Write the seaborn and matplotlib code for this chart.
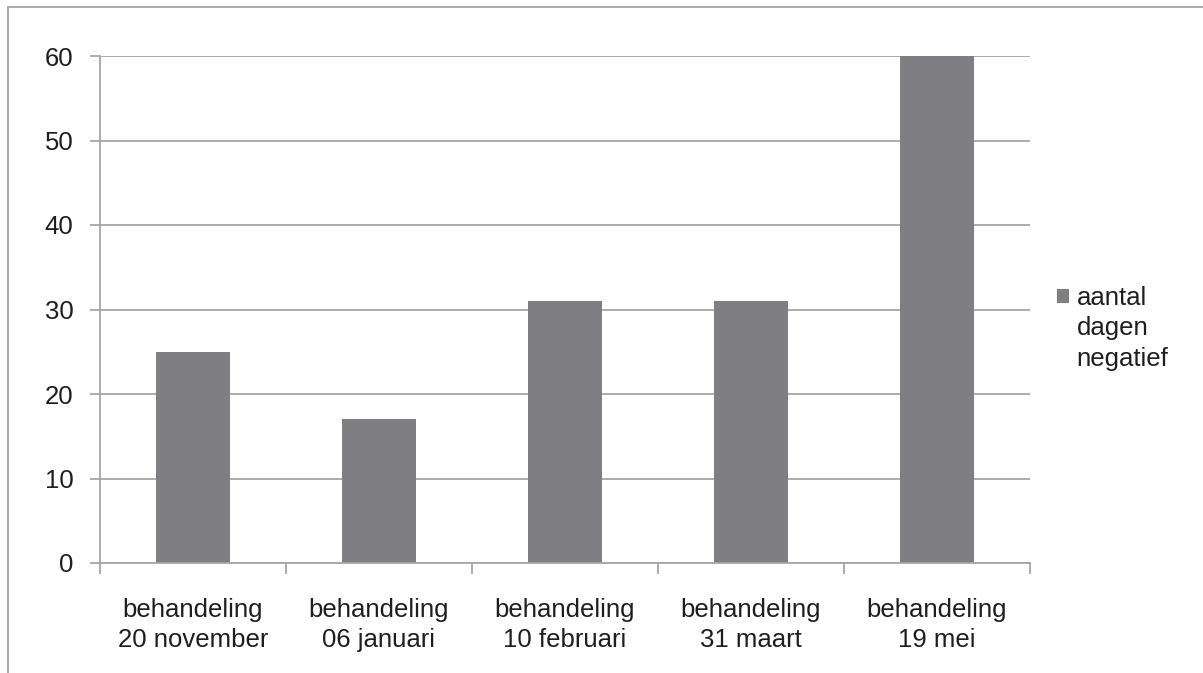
import matplotlib
matplotlib.use("Agg")
import matplotlib.pyplot as plt
from matplotlib.patches import Rectangle, Patch
import seaborn as sns

# data
behandelingen = ["behandeling\n20 november", "behandeling\n06 januari",
                 "behandeling\n10 februari", "behandeling\n31 maart",
                 "behandeling\n19 mei"]
dagen_negatief = [25, 17, 31, 31, 60]
y_ticks = [0, 10, 20, 30, 40, 50, 60]
legend_lines = ["aantal", "dagen", "negatief"]

bar_color = "#7f7f83"
line_color = "#a6a6a6"
text_color = "#1e1e1e"

sns.set_style("white")
plt.rcParams['font.family'] = ['Liberation Sans', 'DejaVu Sans']

fig = plt.figure(figsize=(12.03, 6.73), dpi=100)
ax = fig.add_axes([100 / 1203, 1 - 563 / 673, 930 / 1203, 507 / 673])

sns.barplot(x=behandelingen, y=dagen_negatief, color=bar_color,
            saturation=1, width=0.4, linewidth=0, ax=ax)

ax.set_xlim(-0.5, len(behandelingen) - 0.5)
ax.set_ylim(0, 60)
ax.set_yticks(y_ticks)
ax.yaxis.grid(True, color=line_color, linewidth=1.3)
ax.set_axisbelow(True)

# excel style ticks: labels centred, tick marks between categories
ax.set_xticks(range(len(behandelingen)))
ax.set_xticklabels(behandelingen, linespacing=1.32)
ax.set_xticks([i - 0.5 for i in range(len(behandelingen) + 1)], minor=True)
ax.tick_params(axis='x', which='major', length=0, pad=25,
               labelsize=18.5, labelcolor=text_color)
ax.tick_params(axis='x', which='minor', length=8, width=1.3,
               color=line_color, bottom=True)
ax.tick_params(axis='y', length=7, width=1.3, color=line_color, left=True,
               pad=12, labelsize=18.5, labelcolor=text_color)

for side in ['top', 'right']:
    ax.spines[side].set_visible(False)
for side in ['left', 'bottom']:
    ax.spines[side].set_color(line_color)
    ax.spines[side].set_linewidth(1.3)

ax.set_xlabel("")
ax.set_ylabel("")

# legend: square next to the first line only
handles = [Patch(facecolor=bar_color, edgecolor='none')]
handles += [Patch(facecolor='none', edgecolor='none') for _ in legend_lines[1:]]
fig.legend(handles, legend_lines, loc='upper left',
           bbox_to_anchor=(1057 / 1203, 1 - 286 / 673),
           frameon=False, fontsize=18.5, labelcolor=text_color,
           handlelength=0.47, handleheight=0.47, handletextpad=0.3,
           labelspacing=0.25, borderpad=0, borderaxespad=0)

# outer chart border (right and bottom fall outside the crop)
fig.patches.append(Rectangle((8 / 1203, -0.05), 1.2, 1.05 - 7 / 673,
                             transform=fig.transFigure, fill=False,
                             edgecolor="#a3a3a3", linewidth=1.3))

fig.savefig("out.png", dpi=100)
